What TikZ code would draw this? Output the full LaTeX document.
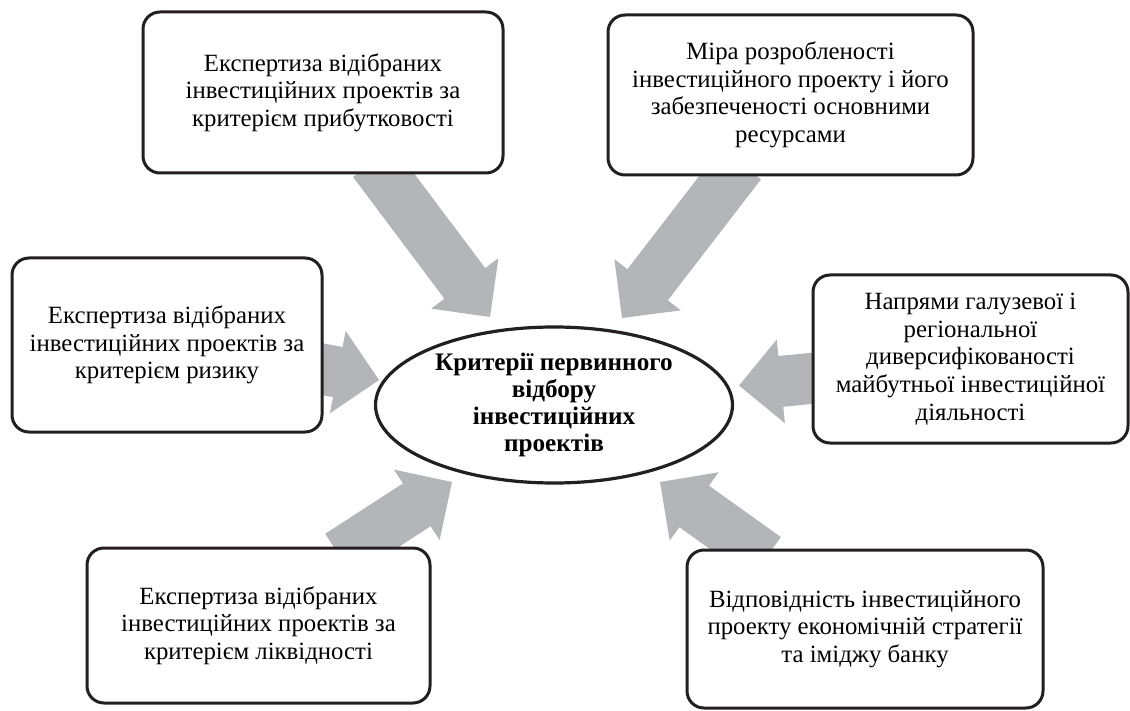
\documentclass[tikz,border=0pt]{standalone}
\usepackage{fontspec}
\setmainfont{Liberation Serif}
\usetikzlibrary{shapes.geometric,calc,backgrounds}
\definecolor{arrowgray}{RGB}{180,181,184}
\definecolor{inkblack}{RGB}{35,31,32}
% block arrow from #1 to the tip #2
\newcommand{\flowarrow}[2]{%
    \path (#1) coordinate (fa-a) (#2) coordinate (fa-t);
    \path ($(fa-a)!-8pt!(fa-t)$) coordinate (fa-s) ($(fa-t)!21pt!(fa-a)$) coordinate (fa-b);
    \fill[flow] ($(fa-s)!12.75pt!90:(fa-t)$) -- ($(fa-b)!12.75pt!90:(fa-t)$)
        -- ($(fa-b)!21pt!90:(fa-t)$) -- (fa-t) -- ($(fa-b)!21pt!-90:(fa-t)$)
        -- ($(fa-b)!12.75pt!-90:(fa-t)$) -- ($(fa-s)!12.75pt!-90:(fa-t)$) -- cycle;}

\begin{document}
\begin{tikzpicture}[x=0.5pt,y=-0.5pt,
    box/.style={draw=inkblack,line width=1.5pt,rounded corners=8.5pt,fill=white,
        align=center,inner sep=0pt,font=\fontsize{12.4}{13.8}\selectfont},
    oval/.style={ellipse,draw=inkblack,line width=1.6pt,fill=white,align=center,
        inner sep=0pt,minimum width=178.5pt,minimum height=78pt,
        font=\bfseries\fontsize{12.6}{13.4}\selectfont},
    flow/.style={fill=arrowgray}]
    \useasboundingbox (0,0) rectangle (1130,711);
    % centre
    \node[oval] (crit) at (554,405) {Критерії первинного\\відбору\\інвестиційних\\проектів};
    % criteria boxes
    \node[box,minimum width=180pt,minimum height=80.5pt] (profit) at (323,92.5)
        {Експертиза відібраних\\інвестиційних проектів за\\критерієм прибутковості};
    \node[box,minimum width=182.5pt,minimum height=80pt] (resource) at (790.5,95)
        {Міра розробленості\\інвестиційного проекту і його\\забезпеченості основними\\ресурсами};
    \node[box,minimum width=155pt,minimum height=87pt] (risk) at (167,345)
        {Експертиза відібраних\\інвестиційних проектів за\\критерієм ризику};
    \node[box,minimum width=157.5pt,minimum height=84pt] (divers) at (970.5,359)
        {Напрями галузевої і\\регіональної\\диверсифікованості\\майбутньої інвестиційної\\діяльності};
    \node[box,minimum width=171.5pt,minimum height=77.5pt] (liquid) at (258.5,625.5)
        {Експертиза відібраних\\інвестиційних проектів за\\критерієм ліквідності};
    \node[box,minimum width=178pt,minimum height=79pt] (image) at (865,629)
        {Відповідність інвестиційного\\проекту економічній стратегії\\та іміджу банку};
    % arrow tips
    \coordinate (tip-profit) at (490,317);
    \coordinate (tip-resource) at (622,318);
    \coordinate (tip-risk) at (379,380);
    \coordinate (tip-divers) at (739,385.5);
    \coordinate (tip-liquid) at (452,482);
    \coordinate (tip-image) at (660,482);
    \begin{scope}[on background layer]
        \flowarrow{[xshift=30pt]profit.south}{tip-profit}
        \flowarrow{[xshift=-29.75pt]resource.south}{tip-resource}
        \flowarrow{[yshift=-12.2pt]risk.east}{tip-risk}
        \flowarrow{[yshift=-9.7pt]divers.west}{tip-divers}
        \flowarrow{[xshift=47pt]liquid.north}{tip-liquid}
        \flowarrow{[xshift=-56pt]image.north}{tip-image}
    \end{scope}
\end{tikzpicture}
\end{document}
